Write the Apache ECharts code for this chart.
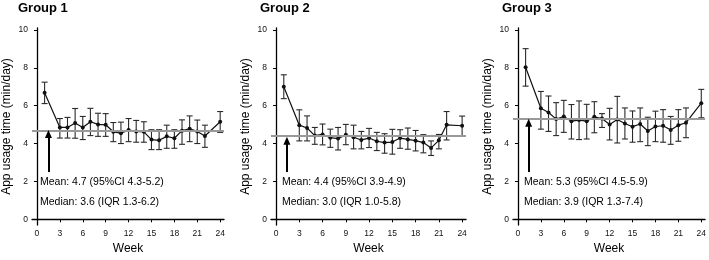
<!DOCTYPE html>
<html>
<head>
<meta charset="utf-8">
<script src="https://cdn.jsdelivr.net/npm/echarts@6/dist/echarts.min.js"></script>
<style>
html,body{margin:0;padding:0;background:#fff;}
#main{width:709px;height:260px;}
</style>
</head>
<body>
<div id="main"></div>
<script>
// weeks with data (2 and 23 missing)
var weeks = [1,3,4,5,6,7,8,9,10,11,12,13,14,15,16,17,18,19,20,21,22,24];
var xTicks = [0,3,6,9,12,15,18,21,24];
var yTicks = [0,2,4,6,8,10];

// Group 1
var g1Mean = [6.68,4.85,4.85,5.08,4.85,5.15,5.01,4.99,4.62,4.55,4.71,4.64,4.62,4.21,4.17,4.38,4.28,4.68,4.78,4.64,4.40,5.15];
var g1Low  = [6.11,4.29,4.29,4.28,4.21,4.42,4.38,4.38,4.10,4.00,4.10,4.07,4.07,3.68,3.68,3.75,3.75,3.96,4.10,4.00,3.80,4.59];
var g1High = [7.24,5.32,5.38,5.85,5.43,5.86,5.60,5.58,5.11,5.13,5.32,5.22,5.15,4.73,4.73,4.97,4.73,5.25,5.46,5.24,4.97,5.69];
// Group 2
var g2Mean = [7.00,4.97,4.82,4.42,4.48,4.31,4.26,4.47,4.33,4.19,4.29,4.12,4.05,4.08,4.29,4.22,4.15,4.05,3.77,4.17,4.99,4.94];
var g2Low  = [6.37,4.14,4.14,3.96,3.93,3.80,3.66,3.94,3.72,3.72,3.79,3.63,3.49,3.44,3.75,3.70,3.61,3.51,3.37,3.72,4.19,4.38];
var g2High = [7.63,5.78,5.46,4.85,5.03,4.76,4.85,5.01,4.97,4.64,4.80,4.59,4.52,4.75,4.73,4.82,4.69,4.47,4.14,4.48,5.69,5.45];
// Group 3
var g3Mean = [8.03,5.86,5.64,5.29,5.43,5.18,5.24,5.18,5.41,5.32,5.01,5.27,5.06,4.89,5.03,4.66,4.90,4.94,4.71,4.97,5.10,6.13];
var g3Low  = [7.03,4.76,4.64,4.42,4.59,4.24,4.21,4.24,4.57,4.85,4.19,4.03,4.24,4.07,4.10,3.89,4.10,4.07,3.96,4.12,4.31,5.36];
var g3High = [9.01,6.75,6.51,6.16,6.28,6.06,6.25,6.07,6.21,5.58,5.86,6.49,5.88,5.72,5.88,5.39,5.71,5.79,5.43,5.79,5.88,6.86];

var groupNames = ['Group 1','Group 2','Group 3'];
var overallMean = [4.7,4.4,5.3];
var meanText = ['Mean: 4.7 (95%CI 4.3-5.2)','Mean: 4.4 (95%CI 3.9-4.9)','Mean: 5.3 (95%CI 4.5-5.9)'];
var medianText = ['Median: 3.6 (IQR 1.3-6.2)','Median: 3.0 (IQR 1.0-5.8)','Median: 3.9 (IQR 1.3-7.4)'];
var arrowX = [1.5,1.4,1.4];
var arrowTop = [4.5,4.15,5.1];
var arrowBottom = 2.5;

var means = [g1Mean,g2Mean,g3Mean];
var lows = [g1Low,g2Low,g3Low];
var highs = [g1High,g2High,g3High];

var gridLeft = [29,271,513];
var gridW = 195;
var FONT = '"Liberation Sans", Arial, sans-serif';

var chart = echarts.init(document.getElementById('main'));

//误差棒
function errRender(params, api){
	var x = api.value(0);
	var lo = api.coord([x, api.value(1)]);
	var hi = api.coord([x, api.value(2)]);
	var cap = 3;
	var st = {stroke:'#2a2a2a', lineWidth:1.1};
	return {type:'group', children:[
		{type:'line', shape:{x1:lo[0],y1:lo[1],x2:hi[0],y2:hi[1]}, style:st},
		{type:'line', shape:{x1:lo[0]-cap,y1:lo[1],x2:lo[0]+cap,y2:lo[1]}, style:st},
		{type:'line', shape:{x1:hi[0]-cap,y1:hi[1],x2:hi[0]+cap,y2:hi[1]}, style:st}
	]};
}

var grids=[],xAxes=[],yAxes=[],series=[],graphics=[];
for(var i=0;i<3;i++){
	grids.push({left:gridLeft[i], top:28, width:gridW, height:199});
	xAxes.push({
		type:'value', gridIndex:i, min:-0.65, max:24.5,
		name:'Week', nameLocation:'middle', nameGap:18,
		nameTextStyle:{fontFamily:FONT, fontSize:12, color:'#000'},
		splitLine:{show:false},
		axisLine:{lineStyle:{color:'#000', width:1.3}},
		axisTick:{length:3, lineStyle:{color:'#000'}, customValues:xTicks},
		axisLabel:{fontFamily:FONT, fontSize:8.5, color:'#111', margin:4, customValues:xTicks}
	});
	yAxes.push({
		type:'value', gridIndex:i, min:-0.3, max:10.1,
		name:'App usage time (min/day)', nameLocation:'middle', nameGap:19,
		nameTextStyle:{fontFamily:FONT, fontSize:12, color:'#000'},
		splitLine:{show:false},
		axisLine:{show:true, lineStyle:{color:'#000', width:1.3}},
		axisTick:{show:true, length:3, lineStyle:{color:'#000'}, customValues:yTicks},
		axisLabel:{fontFamily:FONT, fontSize:8.5, color:'#111', margin:4, customValues:yTicks}
	});
	var errData = [], lineData = [];
	for(var k=0;k<weeks.length;k++){
		errData.push([weeks[k], lows[i][k], highs[i][k]]);
		lineData.push([weeks[k], means[i][k]]);
	}
	series.push({
		type:'line', xAxisIndex:i, yAxisIndex:i, data:lineData,
		symbol:'circle', symbolSize:4, z:3,
		lineStyle:{color:'#111', width:1.2},
		itemStyle:{color:'#111'},
		markLine:{
			silent:true, animation:false,
			data:[
				[{coord:[-0.65, overallMean[i]], symbol:'none'},{coord:[24.5, overallMean[i]], symbol:'none',
					lineStyle:{color:'#999', width:2.2, type:'solid'}}],
				[{coord:[arrowX[i], arrowBottom], symbol:'none'},{coord:[arrowX[i], arrowTop[i]], symbol:'triangle', symbolSize:[7,8],
					lineStyle:{color:'#000', width:2, type:'solid'}}]
			],
			label:{show:false}
		}
	});
	series.push({
		type:'custom', xAxisIndex:i, yAxisIndex:i, data:errData,
		renderItem:errRender, z:2, silent:true
	});
	graphics.push({type:'text', left:gridLeft[i]-11, top:2,
		style:{text:groupNames[i], font:'bold 13px '+FONT, fill:'#000'}});
	graphics.push({type:'text', left:gridLeft[i]+11, top:177,
		style:{text:meanText[i], font:'10.5px '+FONT, fill:'#000'}});
	graphics.push({type:'text', left:gridLeft[i]+11, top:197,
		style:{text:medianText[i], font:'10.5px '+FONT, fill:'#000'}});
}

var option = {
	backgroundColor:'#fff',
	animation:false,
	grid:grids, xAxis:xAxes, yAxis:yAxes, series:series,
	graphic:graphics
};
chart.setOption(option);
</script>
</body>
</html>
